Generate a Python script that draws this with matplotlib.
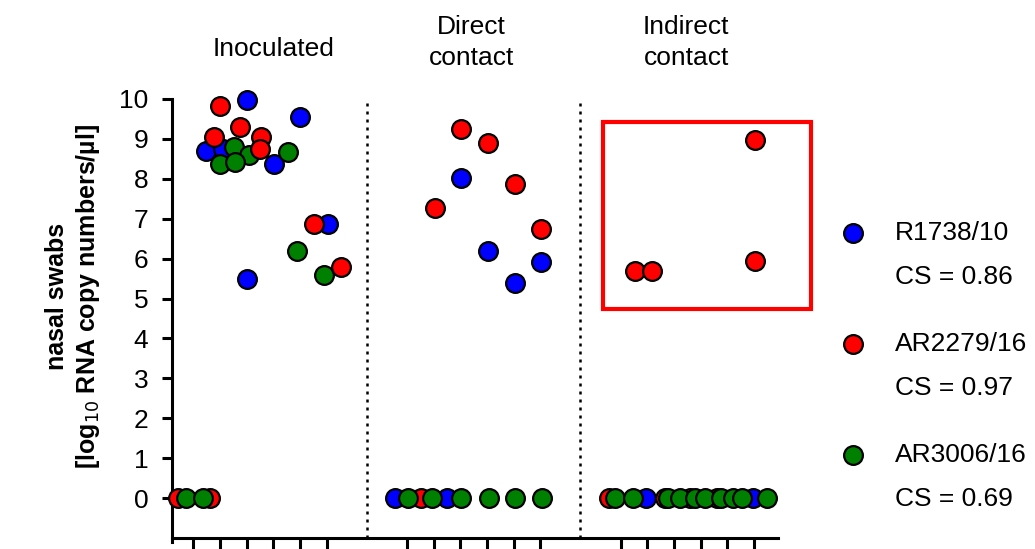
import numpy as np
import matplotlib
matplotlib.use("Agg")
import matplotlib.pyplot as plt
from matplotlib.patches import Rectangle

plt.rcParams["font.family"] = ["Liberation Sans", "DejaVu Sans"]

# group titles and tick positions (one tick per animal slot)
groups = ["Inoculated", "Direct\ncontact", "Indirect\ncontact"]
group_centers = [4.0, 11.41, 19.46]
group_ticks = [1, 2, 3, 4, 5, 6, 9, 10, 11, 12, 13, 14, 17, 18, 19, 20, 21, 22]
separators = [7.5, 15.5]

strains = ["R1738/10", "AR2279/16", "AR3006/16"]
cs_values = [0.86, 0.97, 0.69]
colors = ["#0000ff", "#ff0000", "#008000"]

# R1738/10 (blue)
blue_x = [3.01, 5.0, 1.49, 2.12, 4.01, 6.04, 3.01,
          11.04, 12.04, 13.03, 14.03, 8.54, 10.50,
          17.97, 21.97]
blue_y = [9.97, 9.54, 8.70, 8.74, 8.37, 6.88, 5.49,
          8.01, 6.19, 5.38, 5.91, 0, 0,
          0, 0]

# AR2279/16 (red)
red_x = [2.01, 2.76, 1.79, 3.54, 3.51, 5.53, 6.53, 0.42, 1.62,
         10.04, 11.04, 12.04, 13.03, 14.03, 9.53,
         17.53, 18.18, 22.05, 22.05, 16.58, 18.68, 19.61, 20.61]
red_y = [9.83, 9.30, 9.04, 9.04, 8.74, 6.88, 5.80, 0, 0,
         7.28, 9.26, 8.89, 7.88, 6.75, 0,
         5.69, 5.69, 8.98, 5.94, 0, 0, 0, 0]

# AR3006/16 (green)
green_x = [2.51, 3.07, 2.01, 2.55, 4.53, 4.88, 5.91, 0.73, 1.35,
           9.03, 9.94, 11.04, 12.06, 13.03, 14.06,
           16.81, 17.48, 18.79, 19.24, 19.80, 20.18, 20.78, 21.22, 21.56, 22.50]
green_y = [8.80, 8.60, 8.37, 8.43, 8.66, 6.19, 5.58, 0, 0,
           0, 0, 0, 0, 0, 0,
           0, 0, 0, 0, 0, 0, 0, 0, 0, 0]

series = [(blue_x, blue_y), (red_x, red_y), (green_x, green_y)]

fig = plt.figure(figsize=(10.35, 5.49), dpi=100)
ax = fig.add_axes([0.1662, 0.02, 0.5855, 0.7997])

mk = dict(marker="o", linestyle="none", markersize=13.5, markeredgecolor="black",
          markeredgewidth=1.6, clip_on=False)

# zeros first (blue, red, green), then positive values (blue, green, red)
for i in [0, 1, 2]:
    x, y = np.array(series[i][0]), np.array(series[i][1])
    m = y == 0
    ax.plot(x[m], y[m], color=colors[i], zorder=3, **mk)
for k, i in enumerate([0, 2, 1]):
    x, y = np.array(series[i][0]), np.array(series[i][1])
    m = y > 0
    ax.plot(x[m], y[m], color=colors[i], zorder=4 + k, **mk)

for s in separators:
    ax.axvline(s, color="black", linestyle=(0, (1.2, 2)), linewidth=1.8, zorder=1)

ax.add_patch(Rectangle((16.34, 4.74), 24.13 - 16.34, 9.43 - 4.74, fill=False,
                       edgecolor="#ff0000", linewidth=3, clip_on=False, zorder=2))

ax.set_xlim(0.2, 22.9)
ax.set_ylim(-1, 10)
ax.set_yticks(range(0, 11))
ax.set_xticks(group_ticks)
ax.set_xticklabels([])
ax.tick_params(axis="y", labelsize=19, length=7, width=2.2, pad=10)
ax.tick_params(axis="x", length=8, width=2.2)

for side in ["top", "right"]:
    ax.spines[side].set_visible(False)
ax.spines["left"].set_linewidth(2.2)
ax.spines["bottom"].set_linewidth(2.2)
ax.spines["left"].set_bounds(-1.1, 10)

title_base = [11.08, 10.85, 10.85]
for name, c, b in zip(groups, group_centers, title_base):
    ax.text(c, b, name, ha="center", va="baseline", fontsize=19, linespacing=1.38)

ax.set_ylabel("nasal swabs\n[log$_{10}$ RNA copy numbers/µl]", fontsize=18,
              fontweight="bold", labelpad=12, linespacing=1.25, y=0.55)

# legend
for i in range(3):
    yy = 1 - (233 + i * 111) / 549
    fig.lines.append(plt.Line2D([853 / 1035], [yy], transform=fig.transFigure,
                                marker="o", color=colors[i], markersize=13.5,
                                markeredgecolor="black", markeredgewidth=1.6))
    fig.text(895 / 1035, yy, strains[i], fontsize=19, va="center", ha="left")
    fig.text(895 / 1035, yy - 44 / 549, f"CS = {cs_values[i]:.2f}", fontsize=19,
             va="center", ha="left")

fig.savefig("out.png", dpi=100)
